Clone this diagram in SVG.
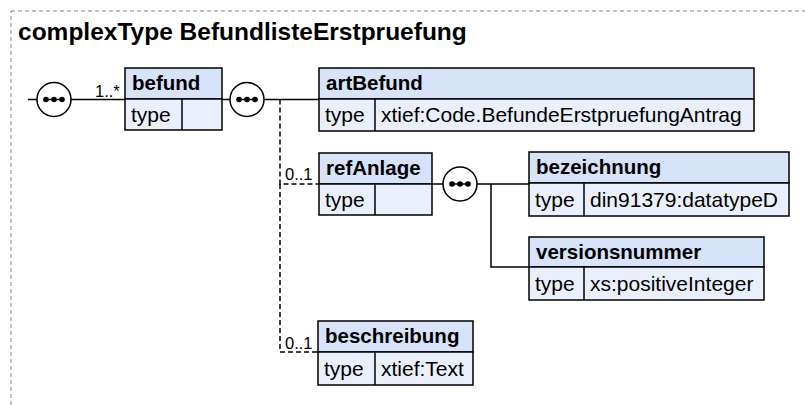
<svg xmlns="http://www.w3.org/2000/svg" width="805" height="405" viewBox="0 0 805 405">
<style>
text{font-family:"Liberation Sans",Arial,sans-serif;fill:#000}
.t{font-size:24.5px;font-weight:bold}
.h{font-size:20.5px;font-weight:bold}
.r{font-size:21px}
.c{font-size:16.5px}
.hd{fill:#d6e3f8;stroke:#000;stroke-width:1.5}
.bd{fill:#e9f0fb;stroke:#000;stroke-width:1.5}
.ln{stroke:#000;stroke-width:1.5;fill:none}
.dl{stroke:#000;stroke-width:1.5;fill:none;stroke-dasharray:5,3}
.seq{fill:#fff;stroke:#000;stroke-width:1.5}
</style>
<defs>
<g id="seqsym">
<circle r="17" class="seq"/>
<line x1="-9" y1="0" x2="9" y2="0" stroke="#000" stroke-width="1.5"/>
<circle cx="-8" r="2.8"/><circle r="2.8"/><circle cx="8" r="2.8"/>
</g>
</defs>
<rect x="11" y="11" width="820" height="420" fill="none" stroke="#888" stroke-width="1" stroke-dasharray="4,3"/>
<text class="t" x="18" y="40">complexType BefundlisteErstpruefung</text>

<g id="connectors">
<line class="ln" x1="28" y1="99.5" x2="125" y2="99.5"/>
<line class="ln" x1="222" y1="99.5" x2="319" y2="99.5"/>
<polyline class="dl" points="280,99.5 280,184 319,184"/>
<polyline class="dl" points="280,184 280,352 318,352"/>
<line class="ln" x1="432" y1="184" x2="529" y2="184"/>
<polyline class="ln" points="491,184 491,267 529,267"/>
<text class="c" x="95" y="97">1..*</text>
<text class="c" x="285" y="180">0..1</text>
<text class="c" x="285" y="349">0..1</text>
</g>

<g id="seq1"><use href="#seqsym" x="54" y="99.5"/></g>
<g id="seq2"><use href="#seqsym" x="247" y="99.5"/></g>
<g id="seq3"><use href="#seqsym" x="460" y="184"/></g>

<g id="befund">
<rect class="hd" x="125" y="68" width="97" height="31"/>
<rect class="bd" x="125" y="99" width="97" height="31"/>
<line class="ln" x1="182" y1="99" x2="182" y2="130"/>
<text class="h" x="132" y="90">befund</text>
<text class="r" x="131" y="122">type</text>
</g>

<g id="artBefund">
<rect class="hd" x="319" y="68" width="435" height="31"/>
<rect class="bd" x="319" y="99" width="435" height="32"/>
<line class="ln" x1="375" y1="99" x2="375" y2="131"/>
<text class="h" x="326" y="90">artBefund</text>
<text class="r" x="325" y="122">type</text>
<text class="r" x="381" y="122">xtief:Code.BefundeErstpruefungAntrag</text>
</g>

<g id="refAnlage">
<rect class="hd" x="319" y="153" width="113" height="31"/>
<rect class="bd" x="319" y="184" width="113" height="31"/>
<line class="ln" x1="375" y1="184" x2="375" y2="215"/>
<text class="h" x="326" y="175">refAnlage</text>
<text class="r" x="325" y="207">type</text>
</g>

<g id="bezeichnung">
<rect class="hd" x="529" y="152" width="260" height="31"/>
<rect class="bd" x="529" y="183" width="260" height="33"/>
<line class="ln" x1="584" y1="183" x2="584" y2="216"/>
<text class="h" x="536" y="174">bezeichnung</text>
<text class="r" x="535" y="207">type</text>
<text class="r" x="590" y="207">din91379:datatypeD</text>
</g>

<g id="versionsnummer">
<rect class="hd" x="529" y="237" width="235" height="30"/>
<rect class="bd" x="529" y="267" width="235" height="33"/>
<line class="ln" x1="584" y1="267" x2="584" y2="300"/>
<text class="h" x="536" y="259">versionsnummer</text>
<text class="r" x="535" y="291">type</text>
<text class="r" x="590" y="291">xs:positiveInteger</text>
</g>

<g id="beschreibung">
<rect class="hd" x="318" y="321" width="155" height="31"/>
<rect class="bd" x="318" y="352" width="155" height="33"/>
<line class="ln" x1="375" y1="352" x2="375" y2="385"/>
<text class="h" x="325" y="343">beschreibung</text>
<text class="r" x="324" y="376">type</text>
<text class="r" x="381" y="376">xtief:Text</text>
</g>
</svg>
